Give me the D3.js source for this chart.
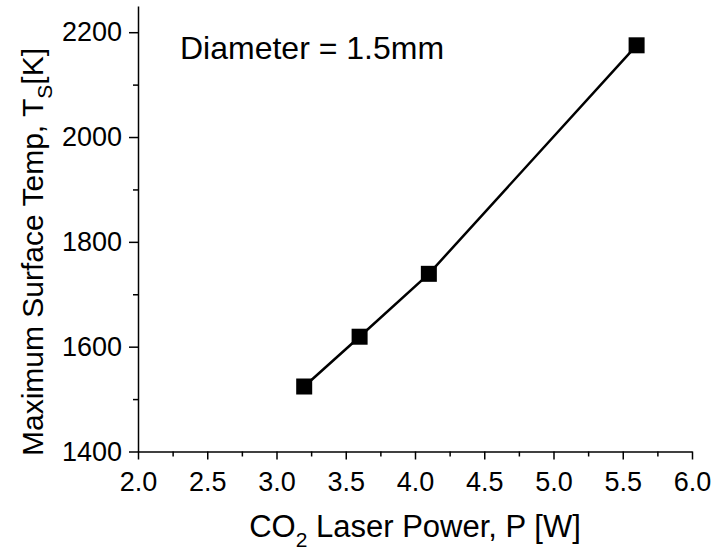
<!DOCTYPE html>
<html>
<head>
<meta charset="utf-8">
<script src="https://cdn.jsdelivr.net/npm/d3@7"></script>
<style>
  body { margin: 0; background: #fff; }
  svg { display: block; font-family: "Liberation Sans", Arial, sans-serif; }
</style>
</head>
<body>
<div id="chart"></div>
<script>
const power = [3.2, 3.6, 4.1, 5.6];
const temp = [1524, 1619, 1739, 2175];
const xTicks = [2.0, 2.5, 3.0, 3.5, 4.0, 4.5, 5.0, 5.5, 6.0];
const yTicks = [1400, 1600, 1800, 2000, 2200];
const xMinor = [2.25, 2.75, 3.25, 3.75, 4.25, 4.75, 5.25, 5.75];
const yMinor = [1500, 1700, 1900, 2100];
const note = "Diameter = 1.5mm";

window.onload = () => {
    const w = 713, h = 550;
    const left = 138, right = 692, top = 6, bottom = 451.5;

    const xScale = d3.scaleLinear().domain([2, 6]).range([left, right]);
    const yScale = d3.scaleLinear().domain([1400, 2250]).range([bottom, top]);

    const svg = d3.select("#chart").append("svg")
        .attr("width", w)
        .attr("height", h);

    // minor ticks first, then the labelled axes on top
    svg.append("g")
        .attr("transform", "translate(0," + bottom + ")")
        .call(d3.axisBottom(xScale).tickValues(xMinor).tickSize(5).tickFormat(""))
        .call(g => g.select(".domain").remove());
    svg.append("g")
        .attr("transform", "translate(" + left + ",0)")
        .call(d3.axisLeft(yScale).tickValues(yMinor).tickSize(5).tickFormat(""))
        .call(g => g.select(".domain").remove());

    const xAxis = svg.append("g")
        .attr("transform", "translate(0," + bottom + ")")
        .call(d3.axisBottom(xScale).tickValues(xTicks).tickSize(8).tickSizeOuter(0)
            .tickPadding(12).tickFormat(d3.format(".1f")));
    const yAxis = svg.append("g")
        .attr("transform", "translate(" + left + ",0)")
        .call(d3.axisLeft(yScale).tickValues(yTicks).tickSize(9).tickSizeOuter(0)
            .tickPadding(7).tickFormat(d3.format("d")));

    [xAxis, yAxis].forEach(g => {
        g.selectAll("text").attr("font-size", 27).attr("fill", "#000")
            .attr("font-family", "Liberation Sans, Arial, sans-serif");
    });
    svg.selectAll(".domain, .tick line").attr("stroke", "#000").attr("stroke-width", 1.5);

    // data line + square markers
    const pts = power.map((p, i) => [p, temp[i]]);
    svg.append("path")
        .datum(pts)
        .attr("fill", "none")
        .attr("stroke", "#000")
        .attr("stroke-width", 2.5)
        .attr("d", d3.line().x(d => xScale(d[0])).y(d => yScale(d[1])));

    const size = 16;
    svg.selectAll("rect.pt")
        .data(pts)
        .enter()
        .append("rect")
        .attr("class", "pt")
        .attr("x", d => xScale(d[0]) - size / 2)
        .attr("y", d => yScale(d[1]) - size / 2)
        .attr("width", size)
        .attr("height", size)
        .attr("fill", "#000");

    // axis titles
    const xt = svg.append("text")
        .attr("x", (left + right) / 2)
        .attr("y", 537)
        .attr("text-anchor", "middle")
        .attr("font-size", 31);
    xt.append("tspan").text("CO");
    xt.append("tspan").attr("font-size", 21).attr("dy", 10).text("2");
    xt.append("tspan").attr("dy", -10).text(" Laser Power, P [W]");

    const yt = svg.append("text")
        .attr("transform", "translate(43,252) rotate(-90)")
        .attr("text-anchor", "middle")
        .attr("font-size", 30);
    yt.append("tspan").text("Maximum Surface Temp, T");
    yt.append("tspan").attr("font-size", 21).attr("dy", 9).text("S");
    yt.append("tspan").attr("dy", -9).text("[K]");

    svg.append("text")
        .attr("x", 180)
        .attr("y", 59)
        .attr("font-size", 32)
        .text(note);
};
</script>
</body>
</html>
